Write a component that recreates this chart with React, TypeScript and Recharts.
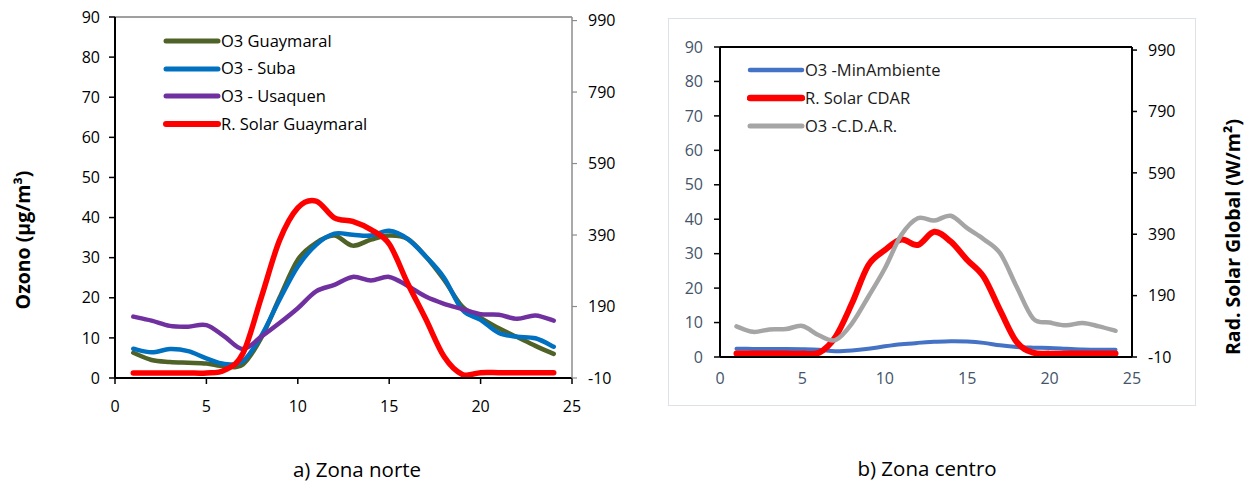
import React from "react";
import { LineChart, Line, XAxis, YAxis, ReferenceLine } from "recharts";

// Hour of day
const hours = [1, 2, 3, 4, 5, 6, 7, 8, 9, 10, 11, 12, 13, 14, 15, 16, 17, 18, 19, 20, 21, 22, 23, 24];

// a) Zona norte — ozone (µg/m³) and global solar radiation (W/m²)
const o3Guaymaral = [6.3, 4.5, 4.0, 3.8, 3.6, 2.9, 3.4, 10.0, 20.0, 29.5, 33.7, 35.5, 33.0, 34.5, 35.5, 34.7, 30.3, 24.5, 17.8, 15.0, 12.4, 10.2, 8.0, 6.0];
const o3Suba = [7.3, 6.4, 7.2, 6.7, 4.9, 3.5, 4.2, 10.5, 19.5, 27.8, 33.2, 36.0, 35.7, 35.5, 36.7, 34.7, 30.3, 25.0, 17.0, 14.5, 11.2, 10.3, 9.9, 7.8];
const o3Usaquen = [15.3, 14.3, 13.0, 12.8, 13.2, 10.3, 7.2, 10.3, 13.7, 17.4, 21.6, 23.2, 25.2, 24.3, 25.2, 23.0, 20.3, 18.5, 17.2, 15.9, 15.75, 14.75, 15.6, 14.3];
const solarGuaymaral = [4, 4, 4, 4, 4, 12, 59, 215, 375, 466, 485, 438, 428, 405, 365, 256, 155, 50, 0, 5, 5, 5, 5, 5];

// b) Zona centro
const o3MinAmbiente = [2.4, 2.35, 2.3, 2.3, 2.25, 2.1, 1.7, 1.9, 2.4, 3.1, 3.7, 4.1, 4.4, 4.6, 4.5, 4.1, 3.4, 2.9, 2.7, 2.6, 2.4, 2.2, 2.1, 2.1];
const solarCdar = [1, 1, 1, 1, 1, 4, 55, 164, 289, 338, 373, 355, 398, 366, 306, 251, 142, 39, 4, 1, 1, 1, 1, 1];
const o3Cdar = [8.9, 7.3, 8.0, 8.1, 9.0, 6.3, 4.9, 9.7, 17.5, 25.7, 35.4, 40.3, 39.6, 41.0, 37.4, 34.2, 30.1, 20.4, 11.2, 10.0, 9.2, 9.9, 8.9, 7.6];

// Axis ticks
const hourTicks = [0, 5, 10, 15, 20, 25];
const ozoneTicks = [0, 10, 20, 30, 40, 50, 60, 70, 80, 90];
const solarTicks = [-10, 190, 390, 590, 790, 990];

const northData = hours.map((h, i) => ({
  h,
  guaymaral: o3Guaymaral[i],
  suba: o3Suba[i],
  usaquen: o3Usaquen[i],
  solar: solarGuaymaral[i],
}));

const centerData = hours.map((h, i) => ({
  h,
  minAmbiente: o3MinAmbiente[i],
  solar: solarCdar[i],
  cdar: o3Cdar[i],
}));

type Series = { key: string; name: string; color: string; width: number; axis: "o3" | "rad" };

const northSeries: Series[] = [
  { key: "guaymaral", name: "O3 Guaymaral", color: "#4F6228", width: 4.5, axis: "o3" },
  { key: "suba", name: "O3 - Suba", color: "#0070C0", width: 4.5, axis: "o3" },
  { key: "usaquen", name: "O3 - Usaquen", color: "#7030A0", width: 4.5, axis: "o3" },
  { key: "solar", name: "R. Solar Guaymaral", color: "#FF0000", width: 5.5, axis: "rad" },
];

const centerSeries: Series[] = [
  { key: "minAmbiente", name: "O3 -MinAmbiente", color: "#4472C4", width: 4, axis: "o3" },
  { key: "solar", name: "R. Solar CDAR", color: "#FF0000", width: 6, axis: "rad" },
  { key: "cdar", name: "O3 -C.D.A.R.", color: "#A5A5A5", width: 4.5, axis: "o3" },
];

// Smoothed line through every point (Catmull-Rom style Bézier segments)
const smoothCurve = (context: any) => {
  let xs: number[] = [];
  let ys: number[] = [];
  return {
    areaStart() {},
    areaEnd() {},
    lineStart() {
      xs = [];
      ys = [];
    },
    point(x: number, y: number) {
      xs.push(+x);
      ys.push(+y);
    },
    lineEnd() {
      const n = xs.length;
      if (!n) return;
      context.moveTo(xs[0], ys[0]);
      for (let i = 0; i < n - 1; i++) {
        const a = Math.max(i - 1, 0);
        const d = Math.min(i + 2, n - 1);
        const c1x = xs[i] + (xs[i + 1] - xs[a]) / 6;
        const c1y = ys[i] + (ys[i + 1] - ys[a]) / 6;
        const c2x = xs[i + 1] - (xs[d] - xs[i]) / 6;
        const c2y = ys[i + 1] - (ys[d] - ys[i]) / 6;
        context.bezierCurveTo(c1x, c1y, c2x, c2y, xs[i + 1], ys[i + 1]);
      }
    },
  };
};

const FONT = "'Open Sans', 'Noto Sans', sans-serif";

function SeriesLegend({ series, left, top, rowH, color }: { series: Series[]; left: number; top: number; rowH: number; color: string }) {
  return (
    <div style={{ position: "absolute", left, top, fontFamily: FONT, fontSize: 16.5, color }}>
      {series.map((s) => (
        <div key={s.name} style={{ display: "flex", alignItems: "center", height: rowH }}>
          <svg width={58} height={10} style={{ display: "block" }}>
            <line x1={3} y1={5} x2={55} y2={5} stroke={s.color} strokeWidth={s.width + 0.5} strokeLinecap="round" />
          </svg>
          <span style={{ marginLeft: 0, whiteSpace: "nowrap", lineHeight: 1 }}>{s.name}</span>
        </div>
      ))}
    </div>
  );
}

const renderLines = (series: Series[]) =>
  series.map((s) => (
    <Line
      key={s.key}
      yAxisId={s.axis}
      dataKey={s.key}
      name={s.name}
      stroke={s.color}
      strokeWidth={s.width}
      type={smoothCurve as any}
      dot={false}
      activeDot={false}
      isAnimationActive={false}
      strokeLinecap="round"
    />
  ));

const textBase: React.CSSProperties = {
  position: "absolute",
  fontFamily: FONT,
  whiteSpace: "nowrap",
  color: "#000",
  lineHeight: 1,
};

export default function App() {
  const tickBlack = { fill: "#000000", fontSize: 16, fontFamily: FONT };
  const tickSlate = { fill: "#44546A", fontSize: 16, fontFamily: FONT };
  return (
    <div style={{ position: "absolute", left: 0, top: 0, width: 1253, height: 482, background: "#ffffff" }}>
      {/* frame around the centre-zone chart */}
      <div
        style={{
          position: "absolute",
          left: 668,
          top: 18,
          width: 528,
          height: 388,
          border: "1.5px solid #DDE2E8",
          boxSizing: "border-box",
        }}
      />

      <div style={{ position: "absolute", left: 0, top: 0 }}>
        <LineChart width={640} height={440} data={northData} margin={{ top: 17, left: 40, right: 8, bottom: 22 }}>
          <XAxis
            dataKey="h"
            type="number"
            domain={[0, 25]}
            ticks={hourTicks}
            tick={tickBlack}
            tickSize={6}
            tickMargin={17}
            height={40}
            axisLine={{ stroke: "#000000", strokeWidth: 2 }}
            tickLine={{ stroke: "#000000", strokeWidth: 1.5 }}
          />
          <YAxis
            yAxisId="o3"
            domain={[0, 90]}
            ticks={ozoneTicks}
            tick={tickBlack}
            tickSize={6}
            tickMargin={9}
            width={75}
            allowDataOverflow
            axisLine={{ stroke: "#000000", strokeWidth: 2 }}
            tickLine={{ stroke: "#000000", strokeWidth: 1.5 }}
          />
          <YAxis
            yAxisId="rad"
            orientation="right"
            domain={[-10, 1000]}
            ticks={solarTicks}
            tick={tickBlack}
            tickSize={5}
            tickMargin={11}
            width={60}
            allowDataOverflow
            axisLine={{ stroke: "#8C8C8C", strokeWidth: 1.5 }}
            tickLine={{ stroke: "#8C8C8C", strokeWidth: 1.2 }}
          />
          <ReferenceLine yAxisId="o3" y={90} stroke="#404040" strokeWidth={1} />
          {renderLines(northSeries)}
        </LineChart>
      </div>

      <div style={{ position: "absolute", left: 640, top: 0 }}>
        <LineChart width={613} height={440} data={centerData} margin={{ top: 47, left: 30, right: 71, bottom: 43 }}>
          <XAxis
            dataKey="h"
            type="number"
            domain={[0, 25]}
            ticks={hourTicks}
            tick={tickSlate}
            tickSize={0}
            tickMargin={16}
            height={40}
            axisLine={{ stroke: "#000000", strokeWidth: 2 }}
            tickLine={false}
          />
          <YAxis
            yAxisId="o3"
            domain={[0, 90]}
            ticks={ozoneTicks}
            tick={tickSlate}
            tickSize={6}
            tickMargin={11}
            width={50}
            allowDataOverflow
            axisLine={{ stroke: "#000000", strokeWidth: 2 }}
            tickLine={{ stroke: "#000000", strokeWidth: 1.5 }}
          />
          <YAxis
            yAxisId="rad"
            orientation="right"
            domain={[-10, 1000]}
            ticks={solarTicks}
            tick={tickBlack}
            tickSize={5}
            tickMargin={11}
            width={50}
            allowDataOverflow
            axisLine={{ stroke: "#000000", strokeWidth: 2 }}
            tickLine={{ stroke: "#000000", strokeWidth: 1.5 }}
          />
          <ReferenceLine yAxisId="o3" y={90} stroke="#000000" strokeWidth={2} />
          {renderLines(centerSeries)}
        </LineChart>
      </div>

      <SeriesLegend series={northSeries} left={163} top={27} rowH={27.7} color="#000000" />
      <SeriesLegend series={centerSeries} left={747} top={56} rowH={28} color="#1a1a1a" />

      {/* axis titles and captions */}
      <div style={{ ...textBase, left: 23, top: 240, transform: "translate(-50%, -50%) rotate(-90deg)", fontWeight: 700, fontSize: 19.5 }}>
        Ozono (µg/m³)
      </div>
      <div style={{ ...textBase, left: 1233, top: 237, transform: "translate(-50%, -50%) rotate(-90deg)", fontWeight: 700, fontSize: 19.5 }}>
        Rad. Solar Global (W/m²)
      </div>
      <div style={{ ...textBase, left: 357, top: 469, transform: "translate(-50%, -50%)", fontSize: 20.5 }}>
        a) Zona norte
      </div>
      <div style={{ ...textBase, left: 927, top: 468, transform: "translate(-50%, -50%)", fontSize: 20.5 }}>
        b) Zona centro
      </div>
    </div>
  );
}
